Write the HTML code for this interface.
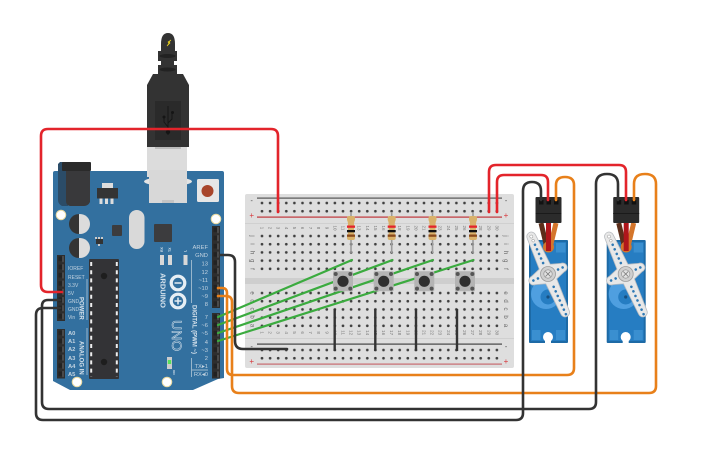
<!DOCTYPE html>
<html><head><meta charset="utf-8"><style>
html,body{margin:0;padding:0;background:#fff;width:725px;height:453px;overflow:hidden}
svg{display:block}
text{font-family:"Liberation Sans",sans-serif}
</style></head><body>
<svg width="725" height="453" viewBox="0 0 725 453" xmlns="http://www.w3.org/2000/svg">
<defs>
<pattern id="h" x="-4.05" y="-4.1" width="8.1" height="8.2" patternUnits="userSpaceOnUse"><circle cx="4.05" cy="4.1" r="1.35" fill="#3f3f3f"/></pattern>
<pattern id="p1" x="212" y="226" width="8" height="8.2" patternUnits="userSpaceOnUse"><rect width="8" height="8.2" fill="#2e2e2e"/><rect x="1.5" y="1.5" width="4.6" height="4.6" fill="#222"/><rect x="5" y="1" width="2" height="6" fill="#4a4a4a"/></pattern>
<pattern id="p2" x="212" y="313" width="8" height="8.2" patternUnits="userSpaceOnUse"><rect width="8" height="8.2" fill="#2e2e2e"/><rect x="1.5" y="1.5" width="4.6" height="4.6" fill="#222"/><rect x="5" y="1" width="2" height="6" fill="#4a4a4a"/></pattern>
<pattern id="p3" x="57" y="255" width="8" height="8.2" patternUnits="userSpaceOnUse"><rect width="8" height="8.2" fill="#2e2e2e"/><rect x="1.5" y="1.5" width="4.6" height="4.6" fill="#222"/><rect x="5" y="1" width="2" height="6" fill="#4a4a4a"/></pattern>
<pattern id="p4" x="57" y="329" width="8" height="8.2" patternUnits="userSpaceOnUse"><rect width="8" height="8.2" fill="#2e2e2e"/><rect x="1.5" y="1.5" width="4.6" height="4.6" fill="#222"/><rect x="5" y="1" width="2" height="6" fill="#4a4a4a"/></pattern>
<g id="res"><rect x="-.8" y="212" width="1.6" height="41" fill="#9a9a9a"/><path d="M-4 218q0-2 2-2h4q2 0 2 2v2q-1 2-1 4v9q0 2 1 4v1q0 2-2 2h-4q-2 0-2-2v-1q1-2 1-4v-9q0-2-1-4z" fill="#d9b26b"/><rect x="-4" y="225.5" width="8" height="2.3" fill="#e3242b"/><rect x="-4" y="230" width="8" height="2.3" fill="#111"/><rect x="-4" y="234.5" width="8" height="2.3" fill="#8a4a1c"/></g>
<g id="btn"><rect x="-10" y="-10" width="20" height="20" rx="1" fill="#b4b4b4"/><circle r="5.6" fill="#2f2f2f"/><circle cx="-7.3" cy="-7.3" r="2" fill="#555"/><circle cx="7.3" cy="-7.3" r="2" fill="#555"/><circle cx="-7.3" cy="7.3" r="2" fill="#555"/><circle cx="7.3" cy="7.3" r="2" fill="#555"/></g>
<g id="servo">
<rect x="529" y="240" width="39" height="103" rx="1" fill="#1d6aa6"/>
<path d="M531 242h35v99h-35z" fill="#267dc2"/>
<rect x="556" y="243" width="9.500" height="9.500" fill="#3a8fd0"/>
<rect x="532" y="330" width="8.500" height="10" fill="#3a8fd0"/><rect x="556" y="330" width="9" height="10" fill="#3a8fd0"/>
<circle cx="546" cy="294" r="15" fill="#4f9fe0"/><circle cx="548" cy="297" r="7.500" fill="#267dc2"/><circle cx="548" cy="297" r="1.600" fill="#174f7f"/>
<circle cx="548" cy="337" r="5" fill="#fff"/><rect x="545" y="338" width="6" height="6" fill="#fff"/>
<path d="M541 223L547 248" stroke="#5c2e1a" stroke-width="5" fill="none"/>
<path d="M556 223L550 248" stroke="#d4752b" stroke-width="5" fill="none"/>
<circle cx="548.500" cy="247" r="5.500" fill="#d4752b"/>
<path d="M548.500 223V251" stroke="#b0161b" stroke-width="5" fill="none"/>
<rect x="535.500" y="197" width="26" height="26" rx="1" fill="#2b2b2b"/>
<rect x="535.500" y="213" width="26" height="1" fill="#1a1a1a"/>
<rect x="539" y="200" width="4.500" height="4.500" fill="#111"/><rect x="546.500" y="200" width="4.500" height="4.500" fill="#111"/><rect x="554" y="200" width="4.500" height="4.500" fill="#111"/>
<g transform="rotate(-24 548 274)">
<path d="M543.500 233a4.500 4.500 0 0 1 9 0L554 266L564 269.500a4.500 4.500 0 0 1 0 9L554 282L552.500 316a4.500 4.500 0 0 1-9 0L542 282L532 278.500a4.500 4.500 0 0 1 0-9L542 266Z" fill="#e8e8e8" stroke="#b9bcc0" stroke-width=".8"/>
<g fill="#2f79b4"><circle cx="548" cy="242" r="1.300"/><circle cx="548" cy="247" r="1.300"/><circle cx="548" cy="252" r="1.300"/><circle cx="548" cy="257" r="1.300"/><circle cx="548" cy="262" r="1.300"/><circle cx="548" cy="288" r="1.300"/><circle cx="548" cy="293" r="1.300"/><circle cx="548" cy="298" r="1.300"/><circle cx="548" cy="303" r="1.300"/><circle cx="548" cy="308" r="1.300"/><circle cx="548" cy="313" r="1.300"/><circle cx="548" cy="318" r="1.300"/><circle cx="532" cy="274" r="1.300"/><circle cx="537" cy="274" r="1.300"/><circle cx="559" cy="274" r="1.300"/><circle cx="564" cy="274" r="1.300"/></g>
<circle cx="548" cy="233" r="1.500" fill="#fff" stroke="#999" stroke-width=".5"/><circle cx="548" cy="237.500" r="1.300" fill="#fff" stroke="#999" stroke-width=".5"/>
</g>
<circle cx="548" cy="274" r="7.500" fill="#cfcfcf" stroke="#9c9c9c" stroke-width=".8"/><circle cx="548" cy="274" r="4.200" fill="#e2e2e2" stroke="#8a8a8a" stroke-width=".6"/><path d="M545.500 271.500l5 5m0-5l-5 5" stroke="#777" stroke-width=".8"/>
</g>
</defs>

<!-- Breadboard -->
<rect x="245" y="194" width="269" height="174" rx="2" fill="#dedede"/>
<rect x="245" y="223" width="269" height="1" fill="#d0d0d0"/><rect x="245" y="338" width="269" height="1" fill="#d0d0d0"/>
<rect x="245" y="278" width="269" height="6" fill="#cecece"/>
<rect x="257" y="197.500" width="245" height="1.200" fill="#555"/>
<rect x="257" y="216.500" width="245" height="1.200" fill="#c0353a"/>
<rect x="257" y="343.500" width="245" height="1.200" fill="#444"/>
<rect x="257" y="363.500" width="245" height="1.200" fill="#c86a6e"/>
<g fill="url(#h)">
<rect transform="translate(262,203)" x="-4" y="-4" width="243" height="16.400"/>
<rect transform="translate(262,236)" x="-4" y="-4" width="243" height="41"/>
<rect transform="translate(262,293)" x="-4" y="-4" width="243" height="41"/>
<rect transform="translate(262,350)" x="-4" y="-4" width="243" height="16.400"/>
</g>
<g font-size="7" fill="#444" text-anchor="middle"><text x="251.700" y="203">-</text><text x="506" y="203">-</text><text x="251.700" y="349">-</text><text x="506" y="349">-</text></g>
<g font-size="8" fill="#d8383c" text-anchor="middle"><text x="251.700" y="218">+</text><text x="506" y="218">+</text><text x="251.700" y="364">+</text><text x="506" y="364">+</text></g>
<g font-size="6" fill="#666" text-anchor="middle">
<text transform="translate(250.500,236) rotate(90)">j</text><text transform="translate(250.500,244) rotate(90)">i</text><text transform="translate(250.500,252.700) rotate(90)">h</text><text transform="translate(250.500,260.800) rotate(90)">g</text><text transform="translate(250.500,269) rotate(90)">f</text>
<text transform="translate(250.500,293) rotate(90)">e</text><text transform="translate(250.500,301) rotate(90)">d</text><text transform="translate(250.500,309) rotate(90)">c</text><text transform="translate(250.500,317) rotate(90)">b</text><text transform="translate(250.500,325.500) rotate(90)">a</text>
<text transform="translate(504,236) rotate(90)">j</text><text transform="translate(504,244) rotate(90)">i</text><text transform="translate(504,252.700) rotate(90)">h</text><text transform="translate(504,260.800) rotate(90)">g</text><text transform="translate(504,269) rotate(90)">f</text>
<text transform="translate(504,293) rotate(90)">e</text><text transform="translate(504,301) rotate(90)">d</text><text transform="translate(504,309) rotate(90)">c</text><text transform="translate(504,317) rotate(90)">b</text><text transform="translate(504,325.500) rotate(90)">a</text>
</g>
<g font-size="4.500" fill="#777" text-anchor="middle">
<text transform="translate(260.500,228) rotate(90)">1</text><text transform="translate(268.600,228) rotate(90)">2</text><text transform="translate(276.700,228) rotate(90)">3</text><text transform="translate(284.800,228) rotate(90)">4</text><text transform="translate(292.900,228) rotate(90)">5</text><text transform="translate(301,228) rotate(90)">6</text><text transform="translate(309.100,228) rotate(90)">7</text><text transform="translate(317.200,228) rotate(90)">8</text><text transform="translate(325.300,228) rotate(90)">9</text><text transform="translate(333.400,228) rotate(90)">10</text><text transform="translate(341.500,228) rotate(90)">11</text><text transform="translate(349.600,228) rotate(90)">12</text><text transform="translate(357.700,228) rotate(90)">13</text><text transform="translate(365.800,228) rotate(90)">14</text><text transform="translate(373.900,228) rotate(90)">15</text><text transform="translate(382,228) rotate(90)">16</text><text transform="translate(390.100,228) rotate(90)">17</text><text transform="translate(398.200,228) rotate(90)">18</text><text transform="translate(406.300,228) rotate(90)">19</text><text transform="translate(414.400,228) rotate(90)">20</text><text transform="translate(422.500,228) rotate(90)">21</text><text transform="translate(430.600,228) rotate(90)">22</text><text transform="translate(438.700,228) rotate(90)">23</text><text transform="translate(446.800,228) rotate(90)">24</text><text transform="translate(454.900,228) rotate(90)">25</text><text transform="translate(463,228) rotate(90)">26</text><text transform="translate(471.100,228) rotate(90)">27</text><text transform="translate(479.200,228) rotate(90)">28</text><text transform="translate(487.300,228) rotate(90)">29</text><text transform="translate(495.400,228) rotate(90)">30</text>
<text transform="translate(260.500,332.600) rotate(90)">1</text><text transform="translate(268.600,332.600) rotate(90)">2</text><text transform="translate(276.700,332.600) rotate(90)">3</text><text transform="translate(284.800,332.600) rotate(90)">4</text><text transform="translate(292.900,332.600) rotate(90)">5</text><text transform="translate(301,332.600) rotate(90)">6</text><text transform="translate(309.100,332.600) rotate(90)">7</text><text transform="translate(317.200,332.600) rotate(90)">8</text><text transform="translate(325.300,332.600) rotate(90)">9</text><text transform="translate(333.400,332.600) rotate(90)">10</text><text transform="translate(341.500,332.600) rotate(90)">11</text><text transform="translate(349.600,332.600) rotate(90)">12</text><text transform="translate(357.700,332.600) rotate(90)">13</text><text transform="translate(365.800,332.600) rotate(90)">14</text><text transform="translate(373.900,332.600) rotate(90)">15</text><text transform="translate(382,332.600) rotate(90)">16</text><text transform="translate(390.100,332.600) rotate(90)">17</text><text transform="translate(398.200,332.600) rotate(90)">18</text><text transform="translate(406.300,332.600) rotate(90)">19</text><text transform="translate(414.400,332.600) rotate(90)">20</text><text transform="translate(422.500,332.600) rotate(90)">21</text><text transform="translate(430.600,332.600) rotate(90)">22</text><text transform="translate(438.700,332.600) rotate(90)">23</text><text transform="translate(446.800,332.600) rotate(90)">24</text><text transform="translate(454.900,332.600) rotate(90)">25</text><text transform="translate(463,332.600) rotate(90)">26</text><text transform="translate(471.100,332.600) rotate(90)">27</text><text transform="translate(479.200,332.600) rotate(90)">28</text><text transform="translate(487.300,332.600) rotate(90)">29</text><text transform="translate(495.400,332.600) rotate(90)">30</text>
</g>

<!-- Arduino board -->
<path d="M55 171H222q2 0 2 2V378L218 379L193 390H70L53 381V173q0-2 2-2z" fill="#33709f"/>
<!-- USB metal -->
<ellipse cx="168" cy="181.500" rx="24" ry="4.500" fill="#e4e4e4"/>
<rect x="147" y="147" width="40" height="30" fill="#dcdcdc"/>
<rect x="149" y="170" width="38" height="33" fill="#d8d8d8"/><rect x="162" y="200" width="12" height="3" fill="#c4c4c4"/>
<rect x="155" y="146" width="26" height="3" fill="#bdbdbd"/>
<!-- USB plug -->
<path d="M161 44q0-11 7-11t7 11v8h-14z" fill="#333"/>
<path d="M171 40l-3 2 1 1-2 3 3-3-1-1 2-2z" fill="#f2d81c" stroke="#f2d81c" stroke-width=".6"/>
<rect x="158" y="51" width="19" height="10" fill="#333"/><ellipse cx="167.500" cy="56" rx="8" ry="2" fill="#222"/>
<rect x="161" y="61" width="13" height="5" fill="#333"/>
<rect x="158" y="65" width="19" height="9" fill="#333"/><ellipse cx="167.500" cy="69.500" rx="8" ry="2" fill="#222"/>
<path d="M153 74H183L189 85V147H147V85z" fill="#333"/>
<rect x="155" y="101" width="26" height="39" fill="#2a2a2a"/>
<path d="M168 106v29M164 117v5l4 5M172 113v6l-4 4" stroke="#151515" stroke-width="1" fill="none"/>
<circle cx="164" cy="117" r="1.500" fill="#151515"/><circle cx="172.500" cy="112.500" r="1.500" fill="#151515"/><circle cx="168" cy="132" r="2.200" fill="#151515"/>
<!-- Jack -->
<path d="M60 162h8v44h-6q-4-2-4-6V164z" fill="#2b4c68"/>
<rect x="62" y="162" width="29" height="9" rx="1" fill="#2a2a2a"/>
<path d="M66 171H90V202q-2 4-6 4H70q-4-1-4-5z" fill="#39393b"/>
<!-- Regulator -->
<rect x="102" y="183" width="11" height="5" fill="#ddd"/><rect x="97" y="188" width="21" height="10.500" fill="#343434"/>
<rect x="99.500" y="198.500" width="3" height="5.500" fill="#ddd"/><rect x="105" y="198.500" width="3" height="5.500" fill="#ddd"/><rect x="110.500" y="198.500" width="3" height="5.500" fill="#ddd"/>
<!-- Reset -->
<rect x="197" y="179" width="22" height="23" rx="1.500" fill="#e6e6e6"/><circle cx="207.500" cy="191" r="6" fill="#a8452b"/>
<!-- Holes -->
<g fill="#fff" stroke="#e8d9a0" stroke-width="1"><circle cx="61" cy="215" r="4.800"/><circle cx="216" cy="219" r="4.800"/><circle cx="77" cy="382" r="4.800"/><circle cx="167" cy="382" r="4.800"/></g>
<!-- Caps -->
<g><circle cx="80" cy="224" r="10" fill="#dcdcdc"/><path d="M80 214a10 10 0 0 0 0 20z" fill="#343434" transform="translate(-1 0)"/><circle cx="80" cy="248" r="10" fill="#dcdcdc"/><path d="M80 238a10 10 0 0 0 0 20z" fill="#343434" transform="translate(-1 0)"/></g>
<!-- Crystal, chips -->
<rect x="129" y="210" width="15.500" height="39" rx="7.700" fill="#d9d9d9"/>
<rect x="112" y="225" width="10" height="11" rx="1" fill="#3c3c3e"/>
<rect x="154" y="224" width="18" height="18" rx="1" fill="#3c3c3e"/>
<rect x="96" y="239" width="7" height="5" fill="#333"/><g fill="#ccc"><rect x="95" y="237" width="2" height="2"/><rect x="98" y="237" width="2" height="2"/><rect x="101" y="237" width="2" height="2"/><rect x="98" y="244" width="2" height="2"/></g>
<!-- LEDs small -->
<g fill="#d8d8d8"><rect x="160" y="255" width="4" height="10"/><rect x="168" y="255" width="4" height="10"/><rect x="183.500" y="255" width="4" height="10"/></g>
<rect x="167" y="357" width="5" height="12" fill="#ccc"/><rect x="167.800" y="360" width="3.400" height="4" fill="#56e05a"/>
<!-- ATmega -->
<rect x="89" y="259" width="30" height="120" rx="1" fill="#333336"/>
<path d="M91.200 262V377M116.800 262V377" stroke="#eee" stroke-width="2" stroke-dasharray="4 4.200" fill="none"/>
<circle cx="104" cy="276" r="3.200" fill="#1e1e1e"/><circle cx="104" cy="362" r="3.200" fill="#1e1e1e"/>
<!-- Headers -->
<rect x="212" y="226" width="8" height="82" fill="url(#p1)"/>
<rect x="212" y="313" width="8" height="65.500" fill="url(#p2)"/>
<rect x="57" y="255" width="8" height="66" fill="url(#p3)"/>
<rect x="57" y="329" width="8" height="49.500" fill="url(#p4)"/>
<!-- Labels -->
<g font-size="5.800" fill="#c3d3e0" text-anchor="end">
<text x="208" y="249">AREF</text><text x="208" y="257">GND</text><text x="208" y="265.500">13</text><text x="208" y="274">12</text><text x="208" y="282">~11</text><text x="208" y="290">~10</text><text x="208" y="298">~9</text><text x="208" y="306">8</text><text x="208" y="319">7</text><text x="208" y="327">~6</text><text x="208" y="335">~5</text><text x="208" y="344">4</text><text x="208" y="352">~3</text><text x="208" y="360">2</text><text x="208" y="368">TX▸1</text><text x="208" y="376">RX◂0</text>
</g>
<g font-size="5" fill="#c3d3e0">
<text x="68" y="270">IOREF</text><text x="68" y="279">RESET</text><text x="68" y="287">3.3V</text><text x="68" y="295">5V</text><text x="68" y="303">GND</text><text x="68" y="311">GND</text><text x="68" y="319">Vin</text>
</g>
<g font-size="5.800" fill="#c3d3e0" font-weight="bold">
<text x="68" y="335">A0</text><text x="68" y="343">A1</text><text x="68" y="351">A2</text><text x="68" y="360">A3</text><text x="68" y="368">A4</text><text x="68" y="376">A5</text>
</g>
<g fill="none" stroke="#c3d3e0" stroke-width=".7"><path d="M87 279V320M87 328V375M191.500 260V303M191.500 358V377M192 370H208"/></g>
<g font-weight="bold" fill="#d6e2ec">
<text transform="translate(79.500,297) rotate(90)" font-size="6">POWER</text>
<text transform="translate(79.500,341) rotate(90)" font-size="6">ANALOG IN</text>
<text transform="translate(192.500,305) rotate(90)" font-size="6">DIGITAL (PWM ~)</text>
<text transform="translate(160.500,273) rotate(90)" font-size="7.500">ARDUINO</text>
<text transform="translate(163,252) rotate(-90)" font-size="3.500">RX</text><text transform="translate(171,252) rotate(-90)" font-size="3.500">TX</text><text transform="translate(186.500,252) rotate(-90)" font-size="3.500">L</text>
<text transform="translate(173,370) rotate(90)" font-size="3">ON</text>
</g>
<text transform="translate(172,320) rotate(90)" font-size="14" fill="none" stroke="#d6e2ec" stroke-width=".5">UNO</text>
<g fill="none" stroke="#e6eef4" stroke-width="3.200"><circle cx="178" cy="283" r="6.800"/><circle cx="178" cy="301" r="6.800"/></g>
<path d="M174.500 283h7M174.500 301h7M178 297.500v7" stroke="#e6eef4" stroke-width="1.500"/>

<!-- Resistors, green wires, buttons, breadboard jumpers -->
<use href="#res" x="351"/><use href="#res" x="391.700"/><use href="#res" x="432.500"/><use href="#res" x="473"/>
<g stroke="#3bab3f" stroke-width="2.200" fill="none" stroke-linecap="round">
<path d="M218 317L352 260M218 325L392.500 260M218 333L433 260M218 341L473.500 260"/>
</g>
<use href="#btn" x="343" y="281.300"/><use href="#btn" x="383.700" y="281.300"/><use href="#btn" x="424.300" y="281.300"/><use href="#btn" x="465" y="281.300"/>
<g stroke="#333" stroke-width="2.400" fill="none"><path d="M334.700 309V351M375.300 309V351M416 309V351M457 309V351"/></g>

<!-- Servos -->
<use href="#servo"/><use href="#servo" x="77.700"/>

<!-- Wires -->
<g fill="none" stroke-width="2.600" stroke-linejoin="round" stroke-linecap="round">
<path d="M220 255H228q7 0 7 7V341q0 8 8 8H287" stroke="#333"/>
<path d="M218 288H222q5 0 5 5V369q0 6 6 6H567q7 0 7-7V185q0-8-9-8t-9 8V200" stroke="#e8801a"/>
<path d="M218 296H226q6 0 6 6V386q0 7 7 7H649q7 0 7-7V184q0-10-11-10t-11 10V200" stroke="#e8801a"/>
<path d="M62 292H48q-7 0-7-7V136q0-7 7-7H271q7 0 7 7V212" stroke="#e3242b"/>
<path d="M489 212V172q0-7 7-7H619q7 0 7 7V200" stroke="#e3242b"/>
<path d="M497 212V182q0-7 7-7H541q7 0 7 7V200" stroke="#e3242b"/>
<path d="M60 300H48q-6 0-6 6V402q0 7 7 7H589q7 0 7-7V184q0-10 11-10t11 10V200" stroke="#333"/>
<path d="M60 308H43q-7 0-7 7V413q0 7 7 7H516q7 0 7-7V191q0-9 9-9t9 9V200" stroke="#333"/>
</g>
</svg>
</body></html>
